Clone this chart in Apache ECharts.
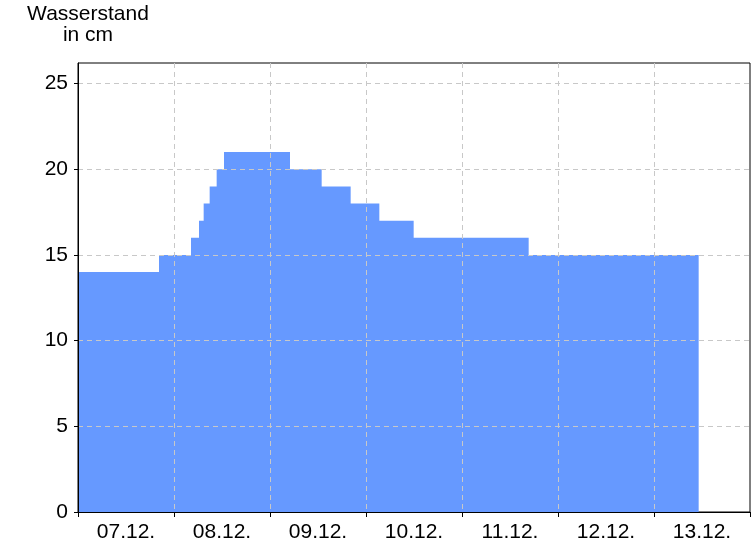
<!DOCTYPE html>
<html>
<head>
<meta charset="utf-8">
<script src="https://cdn.jsdelivr.net/npm/echarts@6/dist/echarts.min.js"></script>
<style>
html,body{margin:0;padding:0;background:#fff;}
#chart{width:756px;height:546px;}
</style>
</head>
<body>
<div id="chart"></div>
<script>
// Day labels on the x axis (each label sits in the middle of its day)
const dayLabels = ['07.12.', '08.12.', '09.12.', '10.12.', '11.12.', '12.12.', '13.12.'];
// Times at which the water level changes (dd.mm. hh:mm)
const times = ['07.12. 00:00', '07.12. 20:15', '08.12. 04:15', '08.12. 06:15', '08.12. 07:25',
  '08.12. 08:55', '08.12. 10:40', '08.12. 12:30', '09.12. 05:00', '09.12. 12:55',
  '09.12. 20:10', '10.12. 03:20', '10.12. 11:55', '11.12. 16:40', '13.12. 11:10'];
// Water level in cm from each time on
const levels = [14, 15, 16, 17, 18, 19, 20, 21, 20, 19, 18, 17, 16, 15, 15];
// Y axis ticks
const yTicks = [0, 5, 10, 15, 20, 25];

function hoursFromStart(s) {
  const day = parseInt(s.slice(0, 2), 10);
  const hh = parseInt(s.slice(7, 9), 10);
  const mm = parseInt(s.slice(10, 12), 10);
  return (day - 7) * 24 + hh + mm / 60;
}
const seriesData = times.map((t, i) => [hoursFromStart(t), levels[i]]);

const font = 'Liberation Sans, Arial, sans-serif';
const chart = echarts.init(document.getElementById('chart'), null, {renderer: 'canvas'});
chart.setOption({
  animation: false,
  backgroundColor: '#ffffff',
  graphic: [{
    type: 'text',
    x: 88, y: 4,
    z: 10,
    style: {
      text: 'Wasserstand\nin cm',
      fill: '#000', font: '21px ' + font,
      align: 'center', verticalAlign: 'top', lineHeight: 21
    }
  }],
  grid: {
    left: 78, top: 63, right: 6, bottom: 34,
    show: true, borderColor: '#000', borderWidth: 1, backgroundColor: '#fff'
  },
  xAxis: [{
    type: 'value',
    min: 0, max: dayLabels.length * 24, interval: 24,
    z: 5,
    axisLine: {show: true, lineStyle: {color: '#000', width: 1}},
    axisTick: {show: true, length: 5, lineStyle: {color: '#000'}},
    axisLabel: {show: false},
    splitLine: {show: true, showMinLine: false, showMaxLine: false,
      lineStyle: {color: '#c8c8c8', type: [5, 4], width: 1}}
  }, {
    type: 'category',
    data: dayLabels,
    boundaryGap: true,
    position: 'bottom',
    axisLine: {show: false},
    axisTick: {show: false},
    splitLine: {show: false},
    axisLabel: {color: '#000', fontSize: 21, fontFamily: font, margin: 10}
  }],
  yAxis: {
    type: 'value',
    min: 0, max: 26.2, interval: 5,
    z: 5,
    axisLine: {show: true, lineStyle: {color: '#000', width: 1}},
    axisTick: {show: true, length: 4, lineStyle: {color: '#000'}},
    axisLabel: {
      color: '#000', fontSize: 21, fontFamily: font, margin: 10,
      showMaxLabel: false,
      formatter: v => (yTicks.indexOf(v) >= 0 ? String(v) : '')
    },
    splitLine: {show: true, showMinLine: false, showMaxLine: false,
      lineStyle: {color: '#c8c8c8', type: [5, 4], width: 1}}
  },
  series: [{
    type: 'line',
    xAxisIndex: 0,
    data: seriesData,
    step: 'end',
    showSymbol: false,
    z: 1,
    lineStyle: {width: 0, color: '#6699ff'},
    areaStyle: {color: '#6699ff', opacity: 1}
  }]
});
</script>
</body>
</html>
